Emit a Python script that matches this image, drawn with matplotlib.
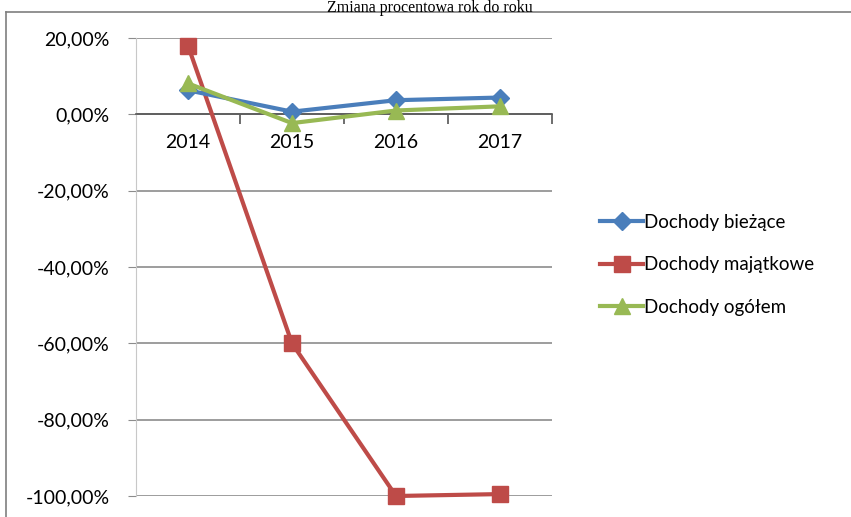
import matplotlib.pyplot as plt
from matplotlib.lines import Line2D
from matplotlib.ticker import FixedLocator

years = ['2014', '2015', '2016', '2017']
biezace = [6.3, 0.7, 3.7, 4.4]
majatkowe = [18.0, -60.0, -100.0, -99.5]
ogolem = [8.1, -2.3, 1.0, 2.1]
y_ticks = [20, 0, -20, -40, -60, -80, -100]
y_labels = ['20,00%', '0,00%', '-20,00%', '-40,00%', '-60,00%', '-80,00%', '-100,00%']

W, H = 851, 517
fig = plt.figure(figsize=(W / 100, H / 100), dpi=100)
font = 'Lato'
fs = 14

# frame of the chart area
fig.add_artist(Line2D([6 / W, 6 / W], [0, 1 - 12 / H], color='#7f7f7f', lw=1.2))
fig.add_artist(Line2D([6 / W, 1], [1 - 12 / H, 1 - 12 / H], color='#7f7f7f', lw=1.2))

fig.text(430 / W, 1 - 0.5 / H, 'Zmiana procentowa rok do roku', ha='center', va='top',
         fontsize=11.5, family='Liberation Serif')

ax = fig.add_axes([136 / W, 1 - 496 / H, (552 - 136) / W, (496 - 38) / H])
# horizontal axis sits on the zero line
ax.spines['bottom'].set_position(('data', 0))
x = list(range(len(years)))

ax.plot(x, biezace, color='#4a7ebb', lw=3, marker='D', ms=9, label='Dochody bieżące',
        zorder=4, clip_on=False)
ax.plot(x, majatkowe, color='#be4b48', lw=3, marker='s', ms=12, label='Dochody majątkowe',
        zorder=3, clip_on=False)
ax.plot(x, ogolem, color='#98b954', lw=3, marker='^', ms=11, label='Dochody ogółem',
        zorder=5, clip_on=False)

ax.set_xlim(-0.5, 3.5)
ax.set_ylim(-100, 20)
ax.set_yticks(y_ticks)
ax.set_yticklabels(y_labels, family=font, fontsize=fs)
ax.yaxis.grid(True, color='#8c8c8c', lw=1.2)
ax.set_axisbelow(True)
ax.tick_params(axis='y', length=6, color='#8c8c8c', pad=13)

ax.set_xticks(x)
ax.set_xticklabels(years, family=font, fontsize=fs)
ax.xaxis.set_minor_locator(FixedLocator([0.5, 1.5, 2.5, 3.5]))
ax.tick_params(axis='x', which='major', length=0, pad=14)
ax.tick_params(axis='x', which='minor', length=7, color='#555555', width=1.2)

for side in ['top', 'right']:
    ax.spines[side].set_visible(False)
ax.spines['left'].set_color('#c8c8c8')
ax.spines['bottom'].set_color('#555555')
ax.spines['bottom'].set_linewidth(1.2)

ax.legend(loc='upper left', bbox_to_anchor=(600 / W, 1 - 214 / H), bbox_transform=fig.transFigure,
          frameon=False, prop={'family': font, 'size': 13.5}, handlelength=2.3,
          handletextpad=0.05, labelspacing=1.35, borderaxespad=0, borderpad=0)

fig.savefig('out.png', dpi=100)
